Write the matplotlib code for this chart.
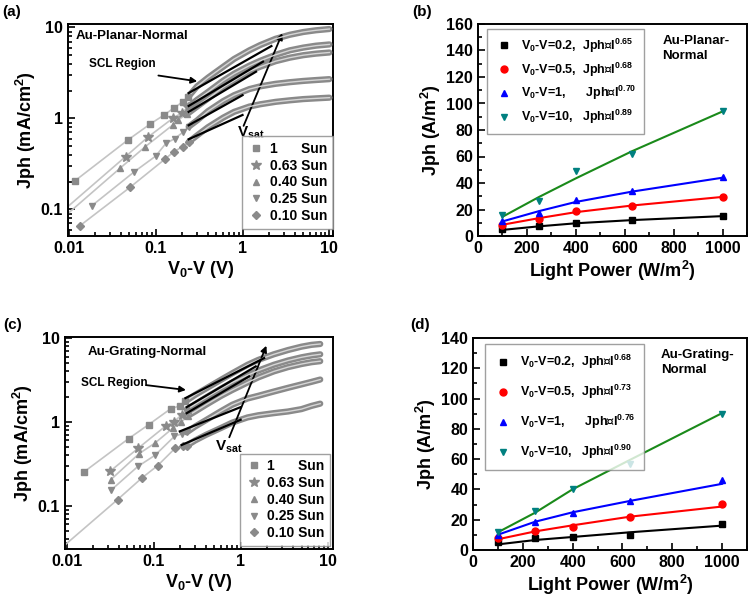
import numpy as np
import matplotlib
matplotlib.use("Agg")
import matplotlib.pyplot as plt
from matplotlib.ticker import FuncFormatter, MultipleLocator, LogLocator

plt.rcParams['font.family'] = ['Liberation Sans', 'DejaVu Sans']
plt.rcParams['font.weight'] = 'bold'
plt.rcParams['axes.labelweight'] = 'bold'
plt.rcParams['mathtext.fontset'] = 'custom'
plt.rcParams['mathtext.rm'] = 'Liberation Sans:bold'
plt.rcParams['mathtext.it'] = 'Liberation Sans:bold'
plt.rcParams['mathtext.bf'] = 'Liberation Sans:bold'

# ---------------- data: panels (a) and (c), J-V on log axes ----------------
sun_labels = ['1      Sun', '0.63 Sun', '0.40 Sun', '0.25 Sun', '0.10 Sun']
sun_markers = ['s', '*', '^', 'v', 'D']
sun_msize = [4, 7, 5, 5, 4]

# (a) Au-Planar-Normal: low-voltage measured points
a_pts_v = [[0.0117, 0.048, 0.087, 0.125, 0.162, 0.205, 0.238],
           [0.045, 0.081, 0.157, 0.2, 0.238],
           [0.0387, 0.076, 0.157, 0.18, 0.232],
           [0.0185, 0.057, 0.1, 0.131, 0.166, 0.208, 0.24],
           [0.0133, 0.0508, 0.128, 0.162, 0.205, 0.24]]
a_pts_j = [[0.205, 0.58, 0.87, 1.09, 1.3, 1.52, 1.73],
           [0.38, 0.62, 1.0, 1.15, 1.35],
           [0.282, 0.489, 0.845, 0.96, 1.12],
           [0.11, 0.26, 0.385, 0.53, 0.6, 0.71, 0.81],
           [0.0656, 0.175, 0.357, 0.43, 0.49, 0.55]]
# thin guide lines reaching the left edge (no markers)
a_tail_v = [None, [0.0095, 0.045], [0.0095, 0.0387], None, None]
a_tail_j = [None, [0.105, 0.38], [0.088, 0.282], None, None]
# dense measured curves
a_curve_v = [0.24, 0.3, 0.4, 0.6, 0.8, 1.2, 1.6, 2.4, 3.5, 5, 7, 10]
a_curve_j = [[1.75, 2.25, 2.8, 3.7, 4.5, 5.6, 6.4, 7.5, 8.3, 8.9, 9.3, 9.6],
             [1.35, 1.6, 1.95, 2.6, 3.1, 3.8, 4.3, 5.0, 5.6, 6.0, 6.3, 6.5],
             [1.15, 1.35, 1.65, 2.2, 2.6, 3.3, 3.7, 4.25, 4.65, 4.95, 5.15, 5.3],
             [0.81, 0.95, 1.2, 1.55, 1.8, 2.1, 2.25, 2.4, 2.5, 2.58, 2.64, 2.7],
             [0.55, 0.65, 0.8, 1.02, 1.18, 1.35, 1.43, 1.52, 1.58, 1.63, 1.66, 1.69]]
# SCL slope lines (start, end)
a_scl_v = [[0.24, 2.15], [0.24, 1.72], [0.24, 1.43], [0.24, 1.0], [0.24, 1.0]]
a_scl_j = [[1.9, 6.24], [1.37, 4.2], [1.18, 3.26], [0.84, 1.8], [0.59, 1.09]]

# (c) Au-Grating-Normal
c_pts_v = [[0.0158, 0.0515, 0.0875, 0.158, 0.2, 0.232],
           [0.0316, 0.067, 0.139, 0.173, 0.21, 0.25],
           [0.0322, 0.068, 0.104, 0.166, 0.206, 0.25],
           [0.0322, 0.066, 0.104, 0.173, 0.21, 0.24],
           [0.0385, 0.0733, 0.111, 0.178, 0.216, 0.24]]
c_pts_j = [[0.252, 0.63, 0.925, 1.44, 1.55, 1.76],
           [0.257, 0.488, 0.9, 1.01, 1.22, 1.4],
           [0.204, 0.417, 0.56, 0.84, 1.0, 1.16],
           [0.152, 0.294, 0.4, 0.67, 0.72, 0.75],
           [0.118, 0.214, 0.3, 0.488, 0.51, 0.52]]
c_tail_v = [None, None, None, None, [0.0096, 0.0385]]
c_tail_j = [None, None, None, None, [0.034, 0.118]]
c_curve_v = [0.24, 0.3, 0.4, 0.6, 0.8, 1.2, 1.6, 2.4, 3.5, 5, 6.5, 8.2]
c_curve_j = [[1.8, 2.1, 2.5, 3.2, 3.8, 4.8, 5.5, 6.4, 7.2, 7.9, 8.3, 8.5],
             [1.4, 1.62, 1.95, 2.5, 2.95, 3.6, 4.1, 4.8, 5.4, 5.9, 6.2, 6.4],
             [1.16, 1.33, 1.6, 2.05, 2.4, 2.95, 3.4, 4.0, 4.5, 4.9, 5.15, 5.3],
             [0.75, 0.88, 1.05, 1.35, 1.6, 1.9, 2.05, 2.3, 2.55, 2.8, 3.0, 3.2],
             [0.52, 0.6, 0.7, 0.85, 0.98, 1.13, 1.2, 1.27, 1.33, 1.42, 1.55, 1.65]]
c_scl_v = [[0.232, 1.86], [0.24, 1.49], [0.24, 1.25], [0.2, 1.0], [0.21, 1.0]]
c_scl_j = [[1.92, 5.77], [1.5, 4.59], [1.27, 3.49], [0.77, 1.5], [0.53, 1.06]]

# ---------------- data: panels (b) and (d), Jph vs light power ----------------
power = [100, 250, 400, 630, 1000]
bias_names = ['0.2,  ', '0.5,  ', '1,      ', '10,   ']
b_exps = ['0.65', '0.68', '0.70', '0.89']
d_exps = ['0.68', '0.73', '0.76', '0.90']
b_pts = [[5.0, 7.3, 10.1, 12.1, 15.1],
         [8.6, 12.9, 18.9, 22.7, 29.5],
         [11.1, 17.4, 27.5, 33.8, 44.6],
         [16.1, 26.5, 48.9, 62.2, 94.2]]
b_fit = [[4.6, 7.3, 9.6, 12.0, 15.0],
         [8.5, 13.5, 18.0, 23.0, 29.5],
         [11.0, 18.8, 25.7, 33.5, 44.0],
         [14.5, 29.5, 43.5, 64.0, 94.0]]
d_pts = [[5.1, 7.7, 8.8, 9.9, 17.2],
         [8.2, 12.6, 15.4, 22.0, 30.4],
         [9.9, 18.3, 24.7, 32.4, 46.3],
         [12.1, 26.0, 40.1, 56.9, 89.9]]
d_fit = [[3.7, 6.6, 8.6, 11.7, 16.1],
         [7.1, 12.3, 16.3, 22.0, 28.7],
         [10.1, 18.7, 24.9, 32.4, 43.7],
         [11.7, 24.7, 40.1, 59.5, 90.4]]
pt_colors = ['black', '#ff0000', '#0000ff', '#008080']
fit_colors = ['black', '#ff0000', '#0000ff', '#1a8a1a']
pt_markers = ['s', 'o', '^', 'v']

W, H = 752, 597
fig = plt.figure(figsize=(W / 100, H / 100), dpi=100)


def box(left, top, right, bottom):
    return [left / W, 1 - bottom / H, (right - left) / W, (bottom - top) / H]


def style_axes(ax):
    for s in ax.spines.values():
        s.set_linewidth(1.4)
    ax.tick_params(which='both', direction='in', labelsize=11.5, width=1.2)
    ax.tick_params(which='major', length=5)
    ax.tick_params(which='minor', length=3)


def jv_panel(ax, pts_v, pts_j, tail_v, tail_j, curve_v, curve_j, scl_v, scl_j,
             xlim, ylim, name, name_xy, scl_text, scl_arrow, vsat_arrow, vsat_xy):
    gray = '#8a8a8a'
    for i in range(5):
        if tail_v[i] is not None:
            ax.plot(tail_v[i], tail_j[i], color='#c4c4c4', lw=1.2, zorder=2)
        ax.plot(pts_v[i], pts_j[i], color='#c4c4c4', lw=1.2, zorder=2)
        ax.plot(curve_v, curve_j[i], color=gray, lw=4.5, solid_capstyle='round', zorder=3)
        ax.plot(curve_v, curve_j[i], color='#d6d6d6', lw=1.0, zorder=4)
        ax.plot(pts_v[i], pts_j[i], linestyle='none', marker=sun_markers[i],
                ms=sun_msize[i], color=gray, mec=gray, label=sun_labels[i], zorder=5)
        ax.plot(scl_v[i], scl_j[i], color='black', lw=1.6, zorder=6)
    ax.set_xscale('log')
    ax.set_yscale('log')
    ax.set_xlim(*xlim)
    ax.set_ylim(*ylim)
    fmt = FuncFormatter(lambda v, p: f'{v:g}')
    ax.xaxis.set_major_formatter(fmt)
    ax.yaxis.set_major_formatter(fmt)
    ax.xaxis.set_minor_locator(LogLocator(subs=np.arange(2, 10)))
    ax.yaxis.set_minor_locator(LogLocator(subs=np.arange(2, 10)))
    style_axes(ax)
    ax.set_xlabel(r'V$_0$-V (V)', fontsize=13, labelpad=2)
    ax.set_ylabel(r'Jph (mA/cm$^2$)', fontsize=13, labelpad=2)
    ax.text(name_xy[0], name_xy[1], name, fontsize=9.5, va='center')
    ax.annotate('SCL Region', xy=scl_arrow[1], xytext=scl_text, fontsize=8.5,
                va='center', ha='left')
    ax.annotate('', xy=scl_arrow[1], xytext=scl_arrow[0],
                arrowprops=dict(arrowstyle='-|>', color='black', lw=1.3, mutation_scale=9))
    ax.annotate('', xy=vsat_arrow[1], xytext=vsat_arrow[0],
                arrowprops=dict(arrowstyle='-|>', color='black', lw=1.3, mutation_scale=9))
    ax.text(vsat_xy[0], vsat_xy[1], r'V$_{sat}$', fontsize=11, ha='center', va='center')


def power_panel(ax, pts, fit, exps, ylim, name):
    for i in range(4):
        ax.plot(power, fit[i], color=fit_colors[i], lw=1.5, zorder=2)
        lab = r'V$_0$-V=' + bias_names[i] + 'Jph\u221dI$^{' + exps[i] + '}$'
        ax.plot(power, pts[i], linestyle='none', marker=pt_markers[i], ms=5,
                color=pt_colors[i], label=lab, zorder=3)
    ax.set_xlim(0, 1100)
    ax.set_ylim(*ylim)
    ax.xaxis.set_major_locator(MultipleLocator(200))
    ax.xaxis.set_minor_locator(MultipleLocator(100))
    ax.yaxis.set_major_locator(MultipleLocator(20))
    ax.yaxis.set_minor_locator(MultipleLocator(10))
    style_axes(ax)
    ax.set_xlabel(r'Light Power (W/m$^2$)', fontsize=13, labelpad=2)
    ax.set_ylabel(r'Jph (A/m$^2$)', fontsize=13, labelpad=2)
    ax.text(0.685, 0.885, name, transform=ax.transAxes, fontsize=9.5, va='center',
            linespacing=1.3)


# (a)
ax_a = fig.add_axes(box(68, 24, 333, 236))
jv_panel(ax_a, a_pts_v, a_pts_j, a_tail_v, a_tail_j, a_curve_v, a_curve_j,
         a_scl_v, a_scl_j, (0.0098, 11), (0.051, 10.9), 'Au-Planar-Normal',
         (0.012, 8.0), (0.0172, 3.92), [(0.1, 2.99), (0.324, 2.53)],
         [(1.0, 0.776), (2.95, 9.2)], (1.25, 0.69))
leg = ax_a.legend(loc='lower right', bbox_to_anchor=(1.0, 0.035), borderaxespad=0,
                  fontsize=10, frameon=True, fancybox=False, edgecolor='#888888',
                  handletextpad=0.4, labelspacing=0.2, borderpad=0.4, handlelength=1.2)
leg.get_frame().set_linewidth(1.0)

# (c)
ax_c = fig.add_axes(box(65, 337, 333, 549))
jv_panel(ax_c, c_pts_v, c_pts_j, c_tail_v, c_tail_j, c_curve_v, c_curve_j,
         c_scl_v, c_scl_j, (0.0096, 11.5), (0.0304, 10.3), 'Au-Grating-Normal',
         (0.0173, 6.9), (0.0146, 2.9), [(0.0767, 2.77), (0.253, 2.38)],
         [(0.72, 0.61), (2.03, 8.7)], (0.73, 0.5))
leg = ax_c.legend(loc='lower right', bbox_to_anchor=(0.99, 0.015), borderaxespad=0,
                  fontsize=10, frameon=True, fancybox=False, edgecolor='#888888',
                  handletextpad=0.4, labelspacing=0.2, borderpad=0.4, handlelength=1.2)
leg.get_frame().set_linewidth(1.0)

# (b)
ax_b = fig.add_axes(box(478, 24, 747, 236))
power_panel(ax_b, b_pts, b_fit, b_exps, (0, 160), 'Au-Planar-\nNormal')
leg = ax_b.legend(loc='upper left', bbox_to_anchor=(0.033, 0.976), borderaxespad=0,
                  fontsize=9, frameon=True, fancybox=False, edgecolor='#888888',
                  handletextpad=0.6, labelspacing=0.45, borderpad=0.6, handlelength=1.5)
leg.get_frame().set_linewidth(1.0)

# (d)
ax_d = fig.add_axes(box(473, 338, 747, 550))
power_panel(ax_d, d_pts, d_fit, d_exps, (0, 140), 'Au-Grating-\nNormal')
leg = ax_d.legend(loc='upper left', bbox_to_anchor=(0.044, 0.972), borderaxespad=0,
                  fontsize=9, frameon=True, fancybox=False, edgecolor='#888888',
                  handletextpad=0.6, labelspacing=0.95, borderpad=0.7, handlelength=1.5)
leg.get_frame().set_linewidth(1.0)

# panel letters
for lab, x, y in [('(a)', 2, 12), ('(b)', 412, 12), ('(c)', 3, 325), ('(d)', 410, 325)]:
    fig.text(x / W, 1 - y / H, lab, fontsize=11, va='center', ha='left')

fig.savefig('out.png', dpi=100)
